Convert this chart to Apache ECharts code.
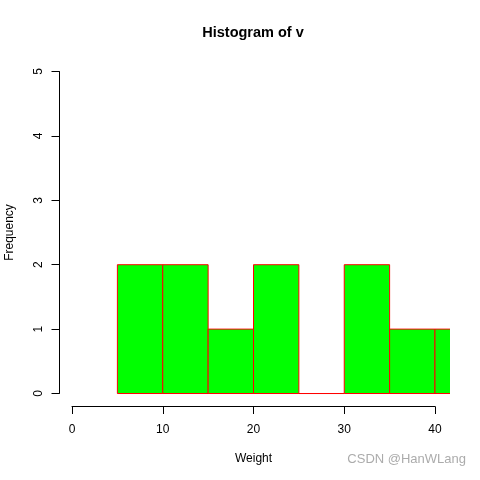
<!DOCTYPE html>
<html><head><meta charset="utf-8">
<script src="https://cdn.jsdelivr.net/npm/echarts@6/dist/echarts.min.js"></script>
<style>html,body{margin:0;padding:0;background:#fff}#c{width:480px;height:480px}</style>
</head><body><div id="c"></div>
<script>
const binStarts = [5, 10, 15, 20, 25, 30, 35, 40];
const binEnds   = [10, 15, 20, 25, 30, 35, 40, 45];
const counts    = [2, 2, 1, 2, 0, 2, 1, 1];
const xTicks = [0, 10, 20, 30, 40];
const yTicks = [0, 1, 2, 3, 4, 5];

const font = 'Liberation Sans, Arial, sans-serif';
const chart = echarts.init(document.getElementById('c'));
const data = binStarts.map((s, i) => [s, binEnds[i], counts[i]]);

chart.setOption({
  animation: false,
  backgroundColor: '#fff',
  title: {
    text: 'Histogram of v', left: 248, top: 20, textAlign: 'center',
    textStyle: {fontFamily: font, fontSize: 14.5, fontWeight: 'bold', color: '#000'}
  },
  grid: [
    {left: 57.5, right: 30.5, top: 58.6, bottom: 73.6, containLabel: false, outerBoundsMode: 'none'},
    {left: 72, right: 45, top: 71.5, bottom: 86.5, containLabel: false, outerBoundsMode: 'none'}
  ],
  xAxis: [
    {gridIndex: 0, type: 'value', min: -1.6, max: 41.6, show: false},
    {gridIndex: 1, type: 'value', min: xTicks[0], max: xTicks[xTicks.length-1], interval: 10,
     position: 'bottom', offset: 13,
     name: 'Weight', nameLocation: 'middle', nameGap: 46,
     nameTextStyle: {fontFamily: font, fontSize: 12, color: '#000'},
     axisLine: {show: true, onZero: false, lineStyle: {color: '#000', width: 1}},
     axisTick: {show: true, length: 7.5, lineStyle: {color: '#000'}},
     axisLabel: {fontFamily: font, fontSize: 12, color: '#000', margin: 17},
     splitLine: {show: false}}
  ],
  yAxis: [
    {gridIndex: 0, type: 'value', min: -0.2, max: 5.2, show: false},
    {gridIndex: 1, type: 'value', min: yTicks[0], max: yTicks[yTicks.length-1], interval: 1,
     position: 'left', offset: 13,
     name: 'Frequency', nameLocation: 'middle', nameGap: 43, nameRotate: 90,
     nameTextStyle: {fontFamily: font, fontSize: 12, color: '#000'},
     axisLine: {show: true, onZero: false, lineStyle: {color: '#000', width: 1}},
     axisTick: {show: true, length: 7.5, lineStyle: {color: '#000'}},
     axisLabel: {fontFamily: font, fontSize: 12, color: '#000', rotate: 90, margin: 14},
     splitLine: {show: false}}
  ],
  graphic: [{
    type: 'text', right: 14, top: 453,
    style: {text: 'CSDN @HanWLang', fontFamily: font, fontSize: 13, fill: 'rgba(150,150,150,0.8)'}
  }],
  series: [{
    type: 'custom', xAxisIndex: 0, yAxisIndex: 0, clip: true,
    data: data,
    renderItem: function (params, api) {
      const p0 = api.coord([api.value(0), api.value(2)]);
      const p1 = api.coord([api.value(1), 0]);
      return {
        type: 'rect',
        shape: {x: p0[0], y: p0[1], width: p1[0] - p0[0], height: p1[1] - p0[1]},
        style: {fill: '#00ff00', stroke: '#ff0000', lineWidth: 1}
      };
    }
  }]
});
</script></body></html>
